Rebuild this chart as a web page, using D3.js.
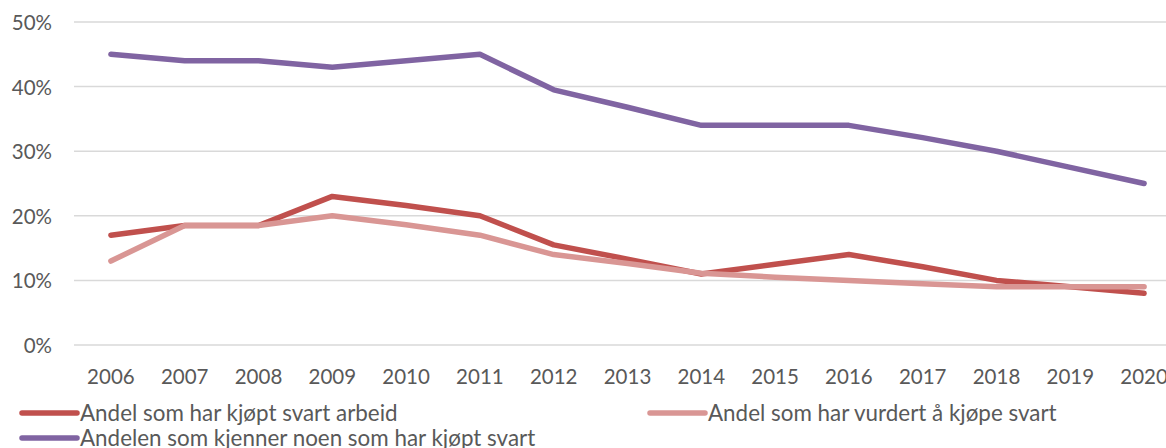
<!DOCTYPE html>
<html>
<head>
<meta charset="utf-8">
<script src="https://cdn.jsdelivr.net/npm/d3@7"></script>
<style>
  body { margin: 0; background: #fff; overflow: hidden; }
  text { font-family: Lato, "Open Sans", sans-serif; fill: #595959; }
</style>
</head>
<body>
<div id="drawing_region"></div>
<script>
// Data
const years = ["2006","2007","2008","2009","2010","2011","2012","2013","2014","2015","2016","2017","2018","2019","2020"];
const kjopt    = [17, 18.5, 18.5, 23, 21.6, 20, 15.5, 13.3, 11, 12.5, 14, 12.1, 10, 9, 8];
const vurdert  = [13, 18.5, 18.5, 20, 18.6, 17, 14, 12.6, 11.1, 10.5, 10, 9.5, 9, 9, 9];
const kjenner  = [45, 44, 44, 43, 44, 45, 39.5, 36.8, 34, 34, 34, 32.1, 30, 27.5, 25];
const yTicks = [0, 10, 20, 30, 40, 50];

const series = [
    { name: "Andel som har kjøpt svart arbeid", values: kjopt, color: "#C0504D" },
    { name: "Andel som har vurdert å kjøpe svart", values: vurdert, color: "#D99694" },
    { name: "Andelen som kjenner noen som har kjøpt svart", values: kjenner, color: "#8064A2" }
];

const width = 1166, height = 448;
const margin = { top: 22, left: 74, plotRight: 1181, bottom: 345 };

const svg = d3.select("#drawing_region")
    .append("svg")
    .attr("width", width)
    .attr("height", height);

const xscale = d3.scaleBand()
    .domain(years)
    .range([margin.left, margin.plotRight]);

const yscale = d3.scaleLinear()
    .domain([0, 50])
    .range([margin.bottom, margin.top]);

// Gridlines
svg.append("g")
    .selectAll("line")
    .data(yTicks)
    .join("line")
    .attr("x1", margin.left)
    .attr("x2", margin.plotRight)
    .attr("y1", d => yscale(d))
    .attr("y2", d => yscale(d))
    .attr("stroke", "#d9d9d9")
    .attr("stroke-width", 1.5);

// Y axis labels
const yaxis = d3.axisLeft(yscale)
    .tickValues(yTicks)
    .tickFormat(d => d + "%")
    .tickSize(0)
    .tickPadding(0);

const yaxis_group = svg.append("g")
    .attr("transform", `translate(52, 1)`)
    .call(yaxis);
yaxis_group.select(".domain").remove();
yaxis_group.selectAll("text")
    .attr("font-size", 20.5)
    .attr("fill", "#595959")
    .attr("font-family", "Lato, sans-serif");

// X axis labels
const xaxis = d3.axisBottom(xscale).tickSize(0).tickPadding(0);
const xaxis_group = svg.append("g")
    .attr("transform", `translate(0, 369.5)`)
    .call(xaxis);
xaxis_group.select(".domain").remove();
xaxis_group.selectAll("text")
    .attr("font-size", 20.5)
    .attr("fill", "#595959")
    .attr("font-family", "Lato, sans-serif");

// Lines
const line = d3.line()
    .x((d, i) => xscale(years[i]) + xscale.bandwidth() / 2)
    .y(d => yscale(d));

svg.append("g")
    .selectAll("path")
    .data(series)
    .join("path")
    .attr("d", d => line(d.values))
    .attr("fill", "none")
    .attr("stroke", d => d.color)
    .attr("stroke-width", 5.5)
    .attr("stroke-linejoin", "round")
    .attr("stroke-linecap", "round");

// Legend
const legendPos = [
    { x: 22, y: 413 },
    { x: 650, y: 413 },
    { x: 22, y: 438 }
];

const legend = svg.append("g")
    .selectAll("g")
    .data(series)
    .join("g")
    .attr("transform", (d, i) => `translate(${legendPos[i].x}, ${legendPos[i].y})`);

legend.append("line")
    .attr("x1", 0)
    .attr("x2", 55)
    .attr("stroke", d => d.color)
    .attr("stroke-width", 5.5)
    .attr("stroke-linecap", "round");

legend.append("text")
    .attr("x", 58)
    .attr("dy", "0.35em")
    .attr("font-size", 22.4)
    .text(d => d.name);
</script>
</body>
</html>
